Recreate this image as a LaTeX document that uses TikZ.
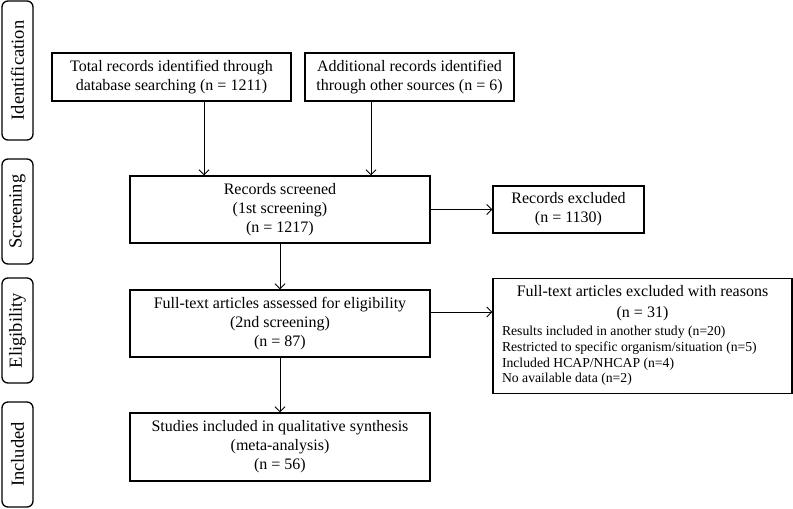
\documentclass[tikz,border=0pt]{standalone}
\usepackage{fontspec}
\setmainfont{Liberation Serif}
\usetikzlibrary{arrows.meta}
\begin{document}
\begin{tikzpicture}[x=1pt,y=-1pt,
  box/.style={draw, line width=1.3pt, align=center, inner sep=0pt,
    font=\fontsize{16}{19}\selectfont},
  side/.style={draw, line width=1.3pt, rounded corners=6pt, rotate=90,
    minimum height=31pt, inner sep=0pt, font=\fontsize{18.5}{20}\selectfont},
  arr/.style={line width=0.9pt, -{Straight Barb[length=5pt,width=10pt,line width=0.9pt]}}]
\useasboundingbox (0,0) rectangle (793,509);
% side labels
\node[side, minimum width=139pt] (sid) at (17.5,70.5) {Identification};
\node[side, minimum width=105pt] (ssc) at (17.5,211.5) {Screening};
\node[side, minimum width=105pt] (sel) at (17.5,330.5) {Eligibility};
\node[side, minimum width=105pt] (sin) at (17.5,454.5) {Included};
% boxes
\node[box, minimum width=239pt, minimum height=48pt] (b1) at (171.5,77)
  {Total records identified through\\database searching (n = 1211)};
\node[box, minimum width=209pt, minimum height=48pt] (b2) at (409.5,77)
  {Additional records identified\\through other sources (n = 6)};
\node[box, minimum width=300pt, minimum height=67pt] (scr) at (280,209.5)
  {Records screened\\(1st screening)\\(n = 1217)};
\node[box, minimum width=151pt, minimum height=47pt] (ex1) at (568.5,209.5)
  {Records excluded\\(n = 1130)};
\node[box, minimum width=300pt, minimum height=67pt] (ft) at (280,323.5)
  {Full-text articles assessed for eligibility\\(2nd screening)\\(n = 87)};
\node[box, minimum width=299pt, minimum height=115pt] (ex2) at (642.5,336)
  {\rule{0pt}{12pt}Full-text articles excluded with reasons\\[2pt](n = 31)\\[3pt]
   \makebox[281pt][l]{\fontsize{13.7}{15.6}\selectfont
   \begin{tabular}{@{}l@{}}
   Results included in another study (n=20)\\
   Restricted to specific organism/situation (n=5)\\
   Included HCAP/NHCAP (n=4)\\
   No available data (n=2)
   \end{tabular}}};
\node[box, minimum width=300pt, minimum height=68pt] (st) at (280,447)
  {Studies included in qualitative synthesis\\(meta-analysis)\\(n = 56)};
% connectors
\coordinate (x1) at (204,0);
\coordinate (x2) at (371,0);
\coordinate (y2) at (0,312);
\draw[arr] (b1.south -| x1) -- (scr.north -| x1);
\draw[arr] (b2.south -| x2) -- (scr.north -| x2);
\draw[arr] (scr.east) -- (ex1.west);
\draw[arr] (scr.south) -- (ft.north);
\draw[arr] (ft.east |- y2) -- (ex2.west |- y2);
\draw[arr] (ft.south) -- (st.north);
\end{tikzpicture}
\end{document}
